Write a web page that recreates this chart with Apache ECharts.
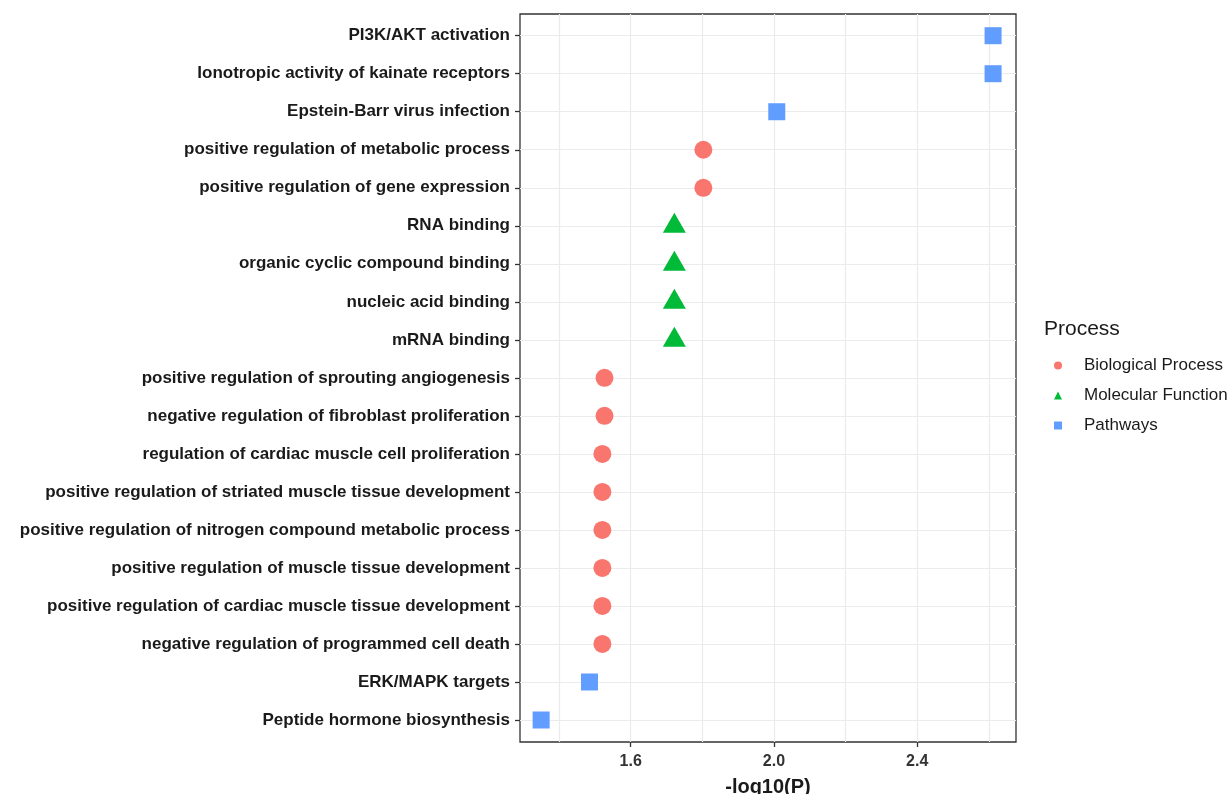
<!DOCTYPE html>
<html><head><meta charset="utf-8">
<script src="https://cdn.jsdelivr.net/npm/echarts@6/dist/echarts.min.js"></script>
<style>html,body{margin:0;padding:0;background:#fff}#c{width:1228px;height:794px}</style>
</head><body><div id="c"></div>
<script>
const categories = [
  'PI3K/AKT activation',
  'Ionotropic activity of kainate receptors',
  'Epstein-Barr virus infection',
  'positive regulation of metabolic process',
  'positive regulation of gene expression',
  'RNA binding',
  'organic cyclic compound binding',
  'nucleic acid binding',
  'mRNA binding',
  'positive regulation of sprouting angiogenesis',
  'negative regulation of fibroblast proliferation',
  'regulation of cardiac muscle cell proliferation',
  'positive regulation of striated muscle tissue development',
  'positive regulation of nitrogen compound metabolic process',
  'positive regulation of muscle tissue development',
  'positive regulation of cardiac muscle tissue development',
  'negative regulation of programmed cell death',
  'ERK/MAPK targets',
  'Peptide hormone biosynthesis'
];
const values = [2.612, 2.612, 2.008, 1.803, 1.803, 1.722, 1.722, 1.722, 1.722,
  1.527, 1.527, 1.521, 1.521, 1.521, 1.521, 1.521, 1.521, 1.485, 1.350];
const processes = ['Pathways','Pathways','Pathways','Biological Process','Biological Process',
  'Molecular Function','Molecular Function','Molecular Function','Molecular Function',
  'Biological Process','Biological Process','Biological Process','Biological Process',
  'Biological Process','Biological Process','Biological Process','Biological Process',
  'Pathways','Pathways'];
const groupNames = ['Biological Process', 'Molecular Function', 'Pathways'];
const xMajorTicks = [1.6, 2.0, 2.4];
const xGridTicks = [1.4, 1.6, 1.8, 2.0, 2.2, 2.4, 2.6];
const xMin = 1.291, xMax = 2.676;

const groupColors = ['#F8766D', '#00BA38', '#619CFF'];
const groupSymbols = ['circle', 'triangle', 'rect'];
const groupSizes = [18, [23, 20], 17];
const groupOffsets = [[0, 0], [0, -3], [0, 0]];
const FONT = "'Liberation Sans', Arial, sans-serif";

const chart = echarts.init(document.getElementById('c'), null, {renderer: 'canvas'});

const series = groupNames.map((g, gi) => ({
  name: g,
  type: 'scatter',
  xAxisIndex: 1,
  yAxisIndex: 1,
  symbol: groupSymbols[gi],
  symbolSize: groupSizes[gi],
  symbolOffset: groupOffsets[gi],
  itemStyle: {color: groupColors[gi], opacity: 1},
  emphasis: {disabled: true},
  data: categories.map((c, i) => processes[i] === g ? [values[i], c] : null).filter(d => d)
}));

chart.setOption({
  animation: false,
  backgroundColor: '#fff',
  textStyle: {fontFamily: FONT},
  title: {
    text: 'Process', left: 1039, top: 314,
    textStyle: {fontFamily: FONT, fontSize: 21, fontWeight: 'normal', color: '#1a1a1a'}
  },
  legend: {
    orient: 'vertical', left: 1049, top: 351,
    itemWidth: 8, itemHeight: 8, itemGap: 11,
    data: groupNames.map((g, gi) => ({name: g, icon: groupSymbols[gi]})),
    textStyle: {fontFamily: FONT, fontSize: 17, color: '#1a1a1a', lineHeight: 19, padding: [0, 0, 0, 17]},
    selectedMode: false
  },
  grid: [
    {left: 520, top: 14, width: 496, height: 728, show: true, borderColor: '#333333', borderWidth: 1.3,
      backgroundColor: 'transparent', containLabel: false, outerBoundsMode: 'none'},
    {left: 520, top: 35.7, width: 496, height: 684.3, show: false, containLabel: false, outerBoundsMode: 'none'}
  ],
  xAxis: [
    {
      gridIndex: 0, type: 'value', min: xMin, max: xMax,
      axisLine: {show: false},
      axisTick: {show: false, customValues: xGridTicks},
      axisLabel: {show: false, customValues: xGridTicks},
      splitLine: {show: true, lineStyle: {color: '#EBEBEB', width: 1.2}}
    },
    {
      gridIndex: 1, type: 'value', min: xMin, max: xMax, position: 'bottom', offset: 22,
      axisLine: {show: false},
      axisTick: {show: true, length: 5, customValues: xMajorTicks, lineStyle: {color: '#333333', width: 1.3}},
      axisLabel: {show: true, customValues: xMajorTicks, margin: 12, fontFamily: FONT, fontSize: 16, fontWeight: 'bold', color: '#333333',
        formatter: v => v.toFixed(1)},
      splitLine: {show: false},
      name: '-log10(P)', nameLocation: 'middle', nameGap: 35,
      nameTextStyle: {fontFamily: FONT, fontSize: 20, fontWeight: 'bold', color: '#1a1a1a'}
    }
  ],
  yAxis: [
    {gridIndex: 0, type: 'value', min: 0, max: 1, show: false, splitLine: {show: false}},
    {
      gridIndex: 1, type: 'category', data: categories, inverse: true, boundaryGap: false,
      axisLine: {show: false},
      axisTick: {show: true, length: 5, alignWithLabel: true, lineStyle: {color: '#333333', width: 1.3}},
      axisLabel: {show: true, interval: 0, margin: 10, fontFamily: FONT, fontSize: 17, fontWeight: 'bold', color: '#1a1a1a',
        padding: [9, 0, 0, 0]},
      splitLine: {show: true, interval: 0, lineStyle: {color: '#EBEBEB', width: 1.2}}
    }
  ],
  series: series
});
</script></body></html>
